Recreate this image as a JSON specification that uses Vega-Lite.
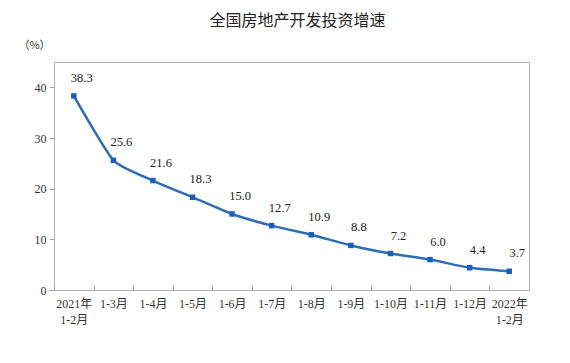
{
  "$schema": "https://vega.github.io/schema/vega-lite/v6.json",
  "width": 475,
  "height": 228,
  "autosize": {"type": "none"},
  "padding": {"left": 54, "top": 62, "right": 41, "bottom": 73},
  "background": "white",
  "title": {
    "text": "全国房地产开发投资增速",
    "font": "Noto Sans CJK SC",
    "fontSize": 16,
    "fontWeight": "normal",
    "color": "#222222",
    "anchor": "middle",
    "dx": 6,
    "offset": 10
  },
  "config": {
    "view": {"stroke": "#b0b0b0", "strokeWidth": 1},
    "axis": {
      "labelFont": "Liberation Serif, Noto Sans CJK SC",
      "labelFontSize": 12,
      "labelColor": "#333333",
      "tickColor": "#a0a0a0",
      "domain": false,
      "grid": false
    }
  },
  "data": {
    "values": [
      {"period": "2021年|1-2月", "value": 38.3},
      {"period": "1-3月", "value": 25.6},
      {"period": "1-4月", "value": 21.6},
      {"period": "1-5月", "value": 18.3},
      {"period": "1-6月", "value": 15.0},
      {"period": "1-7月", "value": 12.7},
      {"period": "1-8月", "value": 10.9},
      {"period": "1-9月", "value": 8.8},
      {"period": "1-10月", "value": 7.2},
      {"period": "1-11月", "value": 6.0},
      {"period": "1-12月", "value": 4.4},
      {"period": "2022年|1-2月", "value": 3.7}
    ]
  },
  "encoding": {
    "x": {
      "field": "period",
      "type": "nominal",
      "sort": null,
      "scale": {"type": "point", "padding": 0.5},
      "axis": {
        "title": null,
        "labelAngle": 0,
        "labelExpr": "split(datum.label, '|')",
        "labelLineHeight": 16,
        "tickSize": -5,
        "tickOffset": -19.8,
        "labelOffset": 19.8,
        "labelPadding": 13
      }
    },
    "y": {
      "field": "value",
      "type": "quantitative",
      "scale": {"domain": [0, 45], "nice": false},
      "axis": {
        "values": [0, 10, 20, 30, 40],
        "tickSize": 5,
        "labelPadding": 3,
        "title": "（%）",
        "titleFont": "Noto Sans CJK SC",
        "titleFontSize": 11,
        "titleFontWeight": "normal",
        "titleColor": "#333333",
        "titleAngle": 0,
        "titleAlign": "center",
        "titleBaseline": "middle",
        "titleX": -20,
        "titleY": -17
      }
    }
  },
  "layer": [
    {
      "mark": {"type": "line", "color": "#2E6DB4", "strokeWidth": 2.5, "interpolate": "cardinal", "tension": 0.5}
    },
    {
      "mark": {"type": "point", "shape": "square", "filled": true, "size": 30, "color": "#1A5FC0", "opacity": 1}
    },
    {
      "mark": {"type": "text", "font": "Liberation Serif", "fontSize": 12.5, "color": "#222222", "dx": 8, "dy": -18},
      "encoding": {
        "text": {"field": "value", "type": "quantitative", "format": ".1f"}
      }
    }
  ]
}
